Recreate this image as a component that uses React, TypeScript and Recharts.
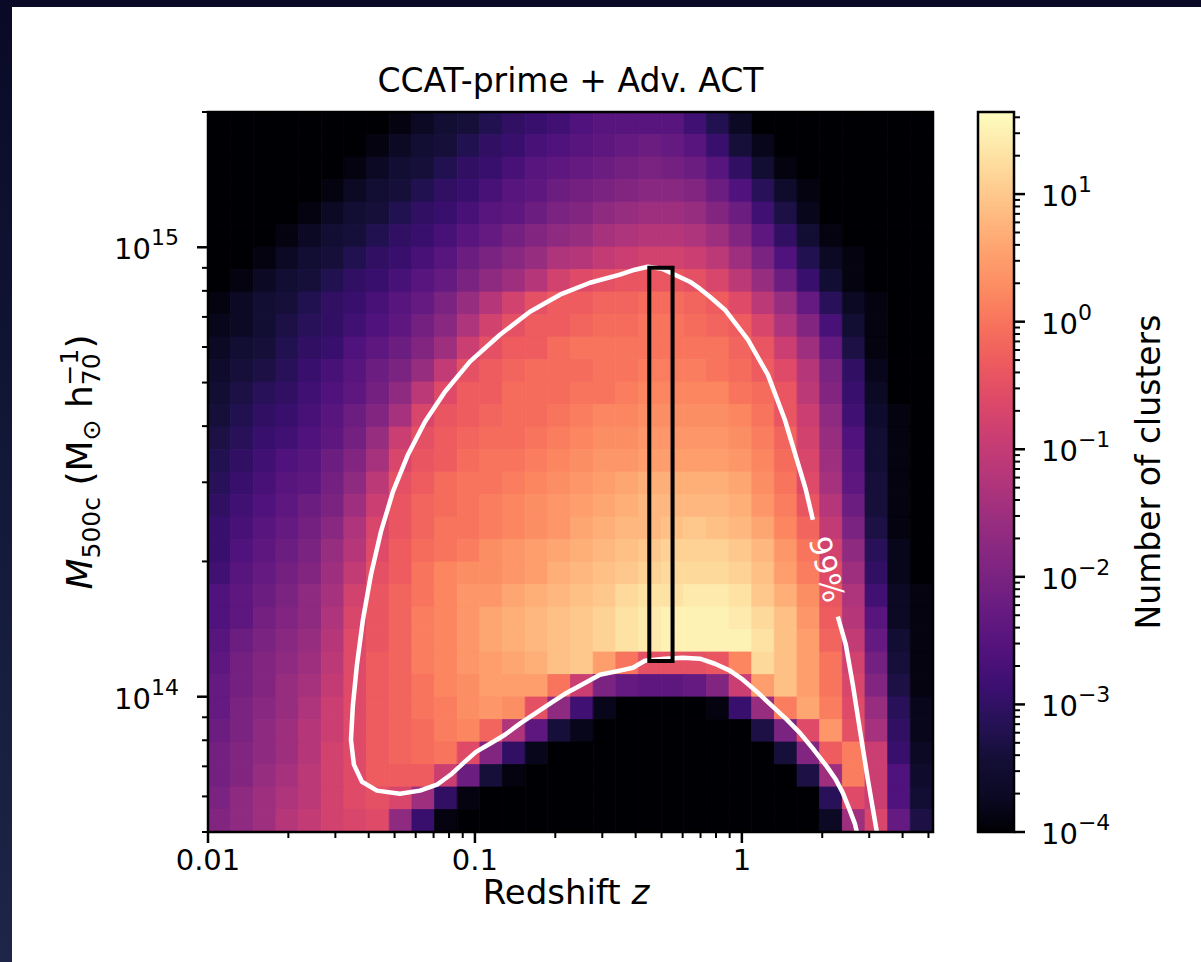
import React from "react";
import { ComposedChart, XAxis, YAxis, Line, ReferenceArea, ReferenceDot } from "recharts";

const FONT = "'DejaVu Sans', 'Liberation Sans', sans-serif";

const Z_MIN = 0.01;
const Z_MAX = 5.2;
const M_MIN = 5e13;
const M_MAX = 2e15;
const N_MIN = 1e-4;
const N_MAX = 44;

const Z_MAJOR = [0.01, 0.1, 1];
const Z_LABELS = ["0.01", "0.1", "1"];
const Z_MINOR = [0.02, 0.03, 0.04, 0.05, 0.06, 0.07, 0.08, 0.09, 0.2, 0.3, 0.4, 0.5, 0.6, 0.7, 0.8, 0.9, 2, 3, 4, 5];
const M_MAJOR = [1e14, 1e15];
const M_EXPONENTS = ["14", "15"];
const M_MINOR = [5e13, 6e13, 7e13, 8e13, 9e13, 2e14, 3e14, 4e14, 5e14, 6e14, 7e14, 8e14, 9e14, 2e15];
const N_MAJOR = [1e-4, 1e-3, 1e-2, 1e-1, 1, 10];
const N_EXPONENTS = ["\u22124", "\u22123", "\u22122", "\u22121", "0", "1"];
const N_MINOR = [
  ...N_MAJOR.slice(0, 5).flatMap((d) => [2, 3, 4, 5, 6, 7, 8, 9].map((k) => k * d)),
  20, 30, 40,
];

// log10(number of clusters) per cell; rows run from the highest mass bin down,
// columns from z = 0.01 up to z = 5.2. -5 means no clusters (below the colour scale).
const ROW_00 = [-5, -5, -5, -5, -5, -5, -5, -5, -3.9, -3.7, -3.5, -3.4, -3.2, -3.0, -2.9, -2.8, -2.6, -2.5, -2.5, -2.5, -2.5, -2.8, -3.2, -3.7, -5, -5, -5, -5, -5, -5, -5, -5];
const ROW_01 = [-5, -5, -5, -5, -5, -5, -5, -3.9, -3.7, -3.5, -3.4, -3.2, -3.0, -2.9, -2.7, -2.6, -2.5, -2.4, -2.3, -2.2, -2.3, -2.5, -2.9, -3.4, -3.8, -5, -5, -5, -5, -5, -5, -5];
const ROW_02 = [-5, -5, -5, -5, -5, -5, -3.9, -3.7, -3.5, -3.4, -3.2, -3.0, -2.9, -2.7, -2.5, -2.4, -2.3, -2.2, -2.1, -2.0, -2.1, -2.2, -2.5, -3.0, -3.5, -3.9, -5, -5, -5, -5, -5, -5];
const ROW_03 = [-5, -5, -5, -5, -5, -3.9, -3.7, -3.5, -3.4, -3.2, -3.0, -2.9, -2.7, -2.5, -2.4, -2.2, -2.1, -2.0, -1.9, -1.8, -1.8, -1.9, -2.2, -2.6, -3.1, -3.6, -3.9, -5, -5, -5, -5, -5];
const ROW_04 = [-5, -5, -5, -5, -3.9, -3.7, -3.5, -3.4, -3.2, -3.0, -2.9, -2.7, -2.5, -2.4, -2.2, -2.0, -1.9, -1.7, -1.6, -1.5, -1.5, -1.6, -1.9, -2.2, -2.8, -3.3, -3.8, -5, -5, -5, -5, -5];
const ROW_05 = [-5, -5, -5, -3.9, -3.7, -3.5, -3.4, -3.2, -3.0, -2.9, -2.7, -2.5, -2.3, -2.1, -1.9, -1.7, -1.6, -1.4, -1.3, -1.2, -1.2, -1.3, -1.5, -1.9, -2.4, -3.0, -3.5, -3.9, -5, -5, -5, -5];
const ROW_06 = [-5, -5, -3.9, -3.7, -3.5, -3.4, -3.2, -3.0, -2.9, -2.7, -2.5, -2.2, -2.0, -1.8, -1.6, -1.3, -1.2, -1.0, -0.9, -0.8, -0.8, -0.9, -1.1, -1.5, -2.0, -2.6, -3.2, -3.7, -3.9, -5, -5, -5];
const ROW_07 = [-5, -3.9, -3.7, -3.5, -3.4, -3.2, -3.0, -2.9, -2.7, -2.5, -2.3, -2.0, -1.7, -1.5, -1.2, -0.8, -0.6, -0.5, -0.4, -0.4, -0.4, -0.5, -0.7, -1.1, -1.6, -2.2, -2.9, -3.5, -3.9, -5, -5, -5];
const ROW_08 = [-3.9, -3.7, -3.5, -3.4, -3.2, -3.0, -2.9, -2.7, -2.5, -2.3, -2.0, -1.6, -1.2, -0.8, -0.5, -0.3, -0.3, -0.2, -0.2, -0.1, -0.1, -0.2, -0.3, -0.6, -1.1, -1.6, -2.3, -3.1, -3.7, -3.9, -5, -5];
const ROW_09 = [-3.8, -3.7, -3.5, -3.3, -3.1, -3.0, -2.8, -2.6, -2.4, -2.1, -1.8, -1.3, -0.8, -0.5, -0.3, -0.3, -0.2, -0.1, -0.1, 0.0, 0.0, -0.1, -0.2, -0.3, -0.7, -1.3, -1.9, -2.7, -3.5, -3.9, -5, -5];
const ROW_10 = [-3.7, -3.5, -3.4, -3.2, -3.0, -2.9, -2.6, -2.4, -2.2, -1.9, -1.5, -0.9, -0.5, -0.3, -0.3, -0.1, 0.0, 0.0, 0.0, 0.0, 0.0, 0.0, 0.0, -0.2, -0.4, -0.9, -1.5, -2.3, -3.3, -3.9, -5, -5];
const ROW_11 = [-3.6, -3.4, -3.3, -3.1, -2.9, -2.7, -2.5, -2.2, -2.0, -1.6, -1.0, -0.5, -0.3, -0.2, -0.1, -0.1, -0.1, 0.0, 0.0, 0.1, 0.1, 0.1, 0.0, -0.1, -0.3, -0.6, -1.2, -2.0, -3.0, -3.8, -5, -5];
const ROW_12 = [-3.5, -3.3, -3.1, -3.0, -2.8, -2.6, -2.4, -2.1, -1.7, -1.1, -0.6, -0.3, -0.3, -0.1, -0.1, -0.1, 0.0, 0.0, 0.1, 0.2, 0.2, 0.2, 0.2, 0.0, -0.1, -0.4, -1.1, -1.9, -2.9, -3.7, -5, -5];
const ROW_13 = [-3.4, -3.2, -3.0, -2.9, -2.7, -2.5, -2.2, -1.9, -1.4, -0.7, -0.4, -0.3, -0.2, -0.1, -0.1, 0.0, 0.1, 0.2, 0.2, 0.3, 0.3, 0.3, 0.3, 0.2, 0.0, -0.4, -0.9, -1.7, -2.8, -3.6, -3.9, -5];
const ROW_14 = [-3.3, -3.1, -2.9, -2.8, -2.6, -2.4, -2.1, -1.6, -0.9, -0.5, -0.3, -0.2, -0.1, -0.1, 0.0, 0.1, 0.2, 0.3, 0.3, 0.4, 0.4, 0.4, 0.4, 0.3, 0.1, -0.2, -0.8, -1.6, -2.6, -3.5, -3.9, -5];
const ROW_15 = [-3.2, -3.0, -2.8, -2.6, -2.5, -2.2, -1.9, -1.4, -0.7, -0.4, -0.3, -0.1, 0.0, 0.0, 0.1, 0.2, 0.3, 0.4, 0.4, 0.5, 0.5, 0.5, 0.5, 0.4, 0.2, -0.1, -0.7, -1.5, -2.5, -3.5, -3.9, -5];
const ROW_16 = [-3.1, -2.9, -2.7, -2.5, -2.4, -2.1, -1.7, -1.1, -0.5, -0.3, -0.1, 0.0, 0.0, 0.1, 0.2, 0.3, 0.4, 0.5, 0.6, 0.7, 0.7, 0.7, 0.7, 0.6, 0.3, 0.0, -0.6, -1.4, -2.4, -3.4, -3.9, -5];
const ROW_17 = [-3.0, -2.8, -2.6, -2.4, -2.2, -2.0, -1.5, -0.9, -0.4, -0.2, -0.1, 0.0, 0.1, 0.2, 0.3, 0.4, 0.5, 0.6, 0.7, 0.8, 0.8, 0.8, 0.8, 0.7, 0.4, 0.1, -0.4, -1.2, -2.2, -3.4, -3.9, -5];
const ROW_18 = [-2.9, -2.7, -2.5, -2.3, -2.1, -1.8, -1.3, -0.7, -0.4, -0.2, 0.0, 0.0, 0.1, 0.2, 0.3, 0.4, 0.6, 0.7, 0.8, 0.8, 0.9, 1.0, 0.9, 0.8, 0.6, 0.2, -0.2, -1.0, -2.0, -3.3, -3.9, -5];
const ROW_19 = [-2.9, -2.6, -2.4, -2.2, -2.0, -1.6, -1.2, -0.6, -0.3, -0.1, 0.0, 0.1, 0.3, 0.4, 0.5, 0.6, 0.7, 0.8, 0.9, 1.0, 1.1, 1.1, 1.1, 1.0, 0.8, 0.4, 0.0, -0.8, -1.7, -3.1, -3.8, -5];
const ROW_20 = [-2.8, -2.5, -2.3, -2.1, -1.9, -1.5, -1.0, -0.5, -0.3, 0.0, 0.2, 0.3, 0.3, 0.4, 0.5, 0.7, 0.8, 0.9, 1.0, 1.1, 1.2, 1.2, 1.2, 1.1, 0.9, 0.5, 0.1, -0.6, -1.5, -3.0, -3.8, -5];
const ROW_21 = [-2.6, -2.4, -2.2, -2.0, -1.7, -1.4, -0.8, -0.4, -0.2, 0.0, 0.2, 0.4, 0.4, 0.6, 0.7, 0.8, 0.9, 1.0, 1.2, 1.3, 1.3, 1.4, 1.4, 1.3, 1.0, 0.7, 0.3, -0.4, -1.3, -2.8, -3.7, -3.9];
const ROW_22 = [-2.6, -2.4, -2.1, -1.9, -1.7, -1.3, -0.7, -0.4, -0.2, 0.1, 0.2, 0.4, 0.6, 0.7, 0.8, 0.9, 1.0, 1.1, 1.3, 1.4, 1.5, 1.5, 1.5, 1.4, 1.2, 0.9, 0.4, -0.3, -1.2, -2.5, -3.7, -3.9];
const ROW_23 = [-2.5, -2.2, -2.0, -1.8, -1.6, -1.2, -0.6, -0.4, -0.2, 0.1, 0.2, 0.4, 0.6, 0.7, 0.8, 0.9, 1.0, 1.1, 1.3, 1.4, 1.5, 1.5, 1.5, 1.5, 1.3, 0.9, 0.5, -0.2, -1.0, -2.3, -3.5, -3.9];
const ROW_24 = [-2.4, -2.1, -1.9, -1.7, -1.5, -1.1, -0.6, -0.3, -0.2, 0.1, 0.2, 0.4, 0.5, 0.6, 0.7, 0.9, 1.0, 0.5, 0.0, -0.5, -0.5, -0.5, -0.4, 0.2, 1.2, 0.9, 0.5, 0.0, -0.8, -2.1, -3.4, -3.9];
const ROW_25 = [-2.3, -2.1, -1.9, -1.6, -1.4, -1.0, -0.6, -0.3, -0.2, 0.0, 0.2, 0.3, 0.5, 0.5, 0.5, 0.0, -0.9, -2.0, -2.3, -2.4, -2.4, -2.3, -1.9, -0.9, 0.5, 0.9, 0.5, 0.0, -0.7, -1.9, -3.3, -3.9];
const ROW_26 = [-2.3, -2.0, -1.8, -1.6, -1.3, -0.9, -0.6, -0.3, -0.2, 0.0, 0.1, 0.3, 0.4, 0.3, -0.5, -1.7, -2.8, -3.8, -5, -5, -5, -5, -3.9, -2.9, -1.6, 0.1, 0.6, 0.1, -0.6, -1.6, -3.1, -3.8];
const ROW_27 = [-2.2, -2.0, -1.7, -1.5, -1.2, -0.9, -0.6, -0.3, -0.2, -0.1, 0.1, 0.2, -0.2, -1.3, -2.4, -3.4, -3.8, -5, -5, -5, -5, -5, -5, -5, -3.3, -2.0, -0.6, 0.4, -0.5, -1.4, -3.0, -3.8];
const ROW_28 = [-2.1, -1.9, -1.7, -1.5, -1.2, -0.8, -0.6, -0.3, -0.2, -0.1, 0.0, -0.6, -1.9, -3.0, -3.8, -5, -5, -5, -5, -5, -5, -5, -5, -5, -5, -3.4, -1.9, -0.3, 0.1, -0.9, -2.9, -3.7];
const ROW_29 = [-2.1, -1.9, -1.6, -1.4, -1.1, -0.8, -0.6, -0.3, -0.3, -0.3, -0.9, -2.2, -3.4, -3.9, -5, -5, -5, -5, -5, -5, -5, -5, -5, -5, -5, -5, -3.3, -1.5, 0.1, -0.9, -2.6, -3.6];
const ROW_30 = [-2.0, -1.7, -1.5, -1.3, -1.1, -0.8, -0.6, -0.5, -0.7, -1.5, -3.0, -3.9, -5, -5, -5, -5, -5, -5, -5, -5, -5, -5, -5, -5, -5, -5, -5, -3.1, -0.6, -0.9, -2.6, -3.5];
const ROW_31 = [-1.9, -1.7, -1.5, -1.2, -1.0, -0.8, -0.7, -0.6, -1.7, -2.9, -3.9, -5, -5, -5, -5, -5, -5, -5, -5, -5, -5, -5, -5, -5, -5, -5, -5, -3.7, -1.5, -0.7, -2.3, -3.3];

const LOG_N_ROWS = [
  ROW_00, ROW_01, ROW_02, ROW_03, ROW_04, ROW_05, ROW_06, ROW_07,
  ROW_08, ROW_09, ROW_10, ROW_11, ROW_12, ROW_13, ROW_14, ROW_15,
  ROW_16, ROW_17, ROW_18, ROW_19, ROW_20, ROW_21, ROW_22, ROW_23,
  ROW_24, ROW_25, ROW_26, ROW_27, ROW_28, ROW_29, ROW_30, ROW_31,
];

// 99% contour, upper part (from the label gap round the top and along the cut-off edge)
const CONTOUR_99_MAIN = [
  { z: 1.845, m: 2.477e14 }, { z: 1.736, m: 2.888e14 }, { z: 1.607, m: 3.368e14 },
  { z: 1.449, m: 4.133e14 }, { z: 1.251, m: 5.207e14 }, { z: 1.053, m: 6.228e14 },
  { z: 0.8636, m: 7.262e14 }, { z: 0.7588, m: 7.763e14 }, { z: 0.6959, m: 8.088e14 },
  { z: 0.6385, m: 8.383e14 }, { z: 0.5611, m: 8.69e14 }, { z: 0.5016, m: 8.962e14 },
  { z: 0.4445, m: 9.054e14 }, { z: 0.3975, m: 8.916e14 }, { z: 0.3492, m: 8.69e14 },
  { z: 0.2697, m: 8.34e14 }, { z: 0.2082, m: 7.843e14 }, { z: 0.1607, m: 7.188e14 },
  { z: 0.1241, m: 6.39e14 }, { z: 0.09578, m: 5.566e14 }, { z: 0.0772, m: 4.772e14 },
  { z: 0.06497, m: 4.091e14 }, { z: 0.05612, m: 3.455e14 }, { z: 0.04931, m: 2.859e14 },
  { z: 0.04445, m: 2.329e14 }, { z: 0.04078, m: 1.868e14 }, { z: 0.03806, m: 1.484e14 },
  { z: 0.03614, m: 1.178e14 }, { z: 0.03491, m: 9.6e13 }, { z: 0.03432, m: 8.02e13 },
  { z: 0.03521, m: 7.06e13 }, { z: 0.03774, m: 6.47e13 }, { z: 0.04295, m: 6.18e13 },
  { z: 0.05237, m: 6.08e13 }, { z: 0.06223, m: 6.18e13 }, { z: 0.07206, m: 6.37e13 },
  { z: 0.082, m: 6.74e13 }, { z: 0.09174, m: 7.17e13 }, { z: 0.1009, m: 7.54e13 },
  { z: 0.1138, m: 7.86e13 }, { z: 0.1296, m: 8.23e13 }, { z: 0.1474, m: 8.71e13 },
  { z: 0.1678, m: 9.17e13 }, { z: 0.191, m: 9.65e13 }, { z: 0.2174, m: 1.015e14 },
  { z: 0.2473, m: 1.058e14 }, { z: 0.2938, m: 1.119e14 }, { z: 0.3492, m: 1.143e14 },
  { z: 0.3906, m: 1.16e14 }, { z: 0.4332, m: 1.202e14 }, { z: 0.5147, m: 1.215e14 },
  { z: 0.6012, m: 1.221e14 }, { z: 0.6959, m: 1.215e14 }, { z: 0.7923, m: 1.184e14 },
  { z: 0.9018, m: 1.143e14 }, { z: 1.009, m: 1.091e14 }, { z: 1.148, m: 1.021e14 },
  { z: 1.306, m: 9.5e13 }, { z: 1.474, m: 8.89e13 }, { z: 1.649, m: 8.31e13 },
  { z: 1.861, m: 7.62e13 }, { z: 2.082, m: 6.99e13 }, { z: 2.249, m: 6.54e13 },
  { z: 2.389, m: 6.11e13 }, { z: 2.516, m: 5.66e13 }, { z: 2.65, m: 5.22e13 },
  { z: 2.696, m: 5.0e13 },
];
// 99% contour, high-redshift branch below the label
const CONTOUR_99_TAIL = [
  { z: 2.288, m: 1.507e14 }, { z: 2.452, m: 1.305e14 }, { z: 2.605, m: 1.063e14 },
  { z: 2.767, m: 8.45e13 }, { z: 2.965, m: 6.54e13 }, { z: 3.203, m: 5.0e13 },
];
const CONTOUR_LABEL = { z: 2.08, m: 1.92e14, text: "99%" };
const BOX = { z1: 0.45, z2: 0.55, m1: 1.2e14, m2: 9.0e14 };

const MAGMA = [
  "#000004", "#0b0924", "#140e36", "#251255", "#3b0f70", "#51127c", "#641a80",
  "#782281", "#8c2981", "#a1307e", "#b73779", "#ca3e72", "#de4968", "#ed5a5f",
  "#f7705c", "#fc8961", "#fe9f6d", "#feb77e", "#fecf92", "#fde7a9", "#fcfdbf",
];

function hexRgb(h: string) {
  return [1, 3, 5].map((k) => parseInt(h.slice(k, k + 2), 16));
}

function magma(t: number) {
  const c = Math.min(1, Math.max(0, t)) * (MAGMA.length - 1);
  const i = Math.min(MAGMA.length - 2, Math.floor(c));
  const f = c - i;
  const a = hexRgb(MAGMA[i]);
  const b = hexRgb(MAGMA[i + 1]);
  const mix = a.map((v, k) => Math.round(v + (b[k] - v) * f));
  return `rgb(${mix[0]},${mix[1]},${mix[2]})`;
}

const LOG_LO = Math.log10(N_MIN);
const LOG_HI = Math.log10(N_MAX);
const colorFor = (logN: number) => magma((logN - LOG_LO) / (LOG_HI - LOG_LO));

const nCols = ROW_00.length;
const nRows = LOG_N_ROWS.length;
const zEdge = (i: number) =>
  i <= 0 ? Z_MIN : i >= nCols ? Z_MAX : Z_MIN * Math.pow(Z_MAX / Z_MIN, i / nCols);
const mEdge = (j: number) =>
  j <= 0 ? M_MAX : j >= nRows ? M_MIN : M_MAX * Math.pow(M_MIN / M_MAX, j / nRows);

const CELLS = LOG_N_ROWS.flatMap((row, j) =>
  row.map((v, i) => ({
    key: `c${j}-${i}`,
    x1: zEdge(i),
    x2: zEdge(i + 1),
    y1: mEdge(j + 1),
    y2: mEdge(j),
    fill: colorFor(v),
  }))
);

const BAR_DATA = [{ x: 0 }, { x: 1 }];

function ZTick(props: any) {
  const { x, y, payload } = props;
  const k = Z_MAJOR.indexOf(payload.value);
  const major = k >= 0;
  return (
    <g>
      <line x1={x} x2={x} y1={y} y2={y + (major ? 11 : 6)} stroke="#000" strokeWidth={major ? 2.5 : 2} />
      {major && (
        <text x={x} y={y + 38} textAnchor="middle" fontSize={29} fontFamily={FONT} fill="#000">
          {Z_LABELS[k]}
        </text>
      )}
    </g>
  );
}

function MTick(props: any) {
  const { x, y, payload } = props;
  const k = M_MAJOR.indexOf(payload.value);
  const major = k >= 0;
  return (
    <g>
      <line x1={x - (major ? 11 : 6)} x2={x} y1={y} y2={y} stroke="#000" strokeWidth={major ? 2.5 : 2} />
      {major && (
        <text x={x - 29} y={y + 12} textAnchor="end" fontSize={29} fontFamily={FONT} fill="#000">
          10
          <tspan fontSize={22} dy={-14}>{M_EXPONENTS[k]}</tspan>
        </text>
      )}
    </g>
  );
}

function NTick(props: any) {
  const { x, y, payload } = props;
  const k = N_MAJOR.indexOf(payload.value);
  const major = k >= 0;
  return (
    <g>
      <line x1={x} x2={x + (major ? 11 : 6)} y1={y} y2={y} stroke="#000" strokeWidth={major ? 2.5 : 2} />
      {major && (
        <text x={x + 27} y={y + 12} textAnchor="start" fontSize={29} fontFamily={FONT} fill="#000">
          10
          <tspan fontSize={22} dy={-14}>{N_EXPONENTS[k]}</tspan>
        </text>
      )}
    </g>
  );
}

function HeatMap() {
  return (
    <ComposedChart width={1201} height={962} margin={{ top: 112, right: 268, bottom: 70, left: 108 }}>
      <XAxis
        dataKey="z"
        type="number"
        scale="log"
        domain={[Z_MIN, Z_MAX]}
        allowDataOverflow
        ticks={[...Z_MAJOR, ...Z_MINOR]}
        interval={0}
        tick={(p: any) => <ZTick {...p} />}
        tickLine={false}
        axisLine={false}
        tickSize={0}
        tickMargin={0}
        height={60}
      />
      <YAxis
        dataKey="m"
        type="number"
        scale="log"
        domain={[M_MIN, M_MAX]}
        allowDataOverflow
        ticks={[...M_MAJOR, ...M_MINOR]}
        interval={0}
        tick={(p: any) => <MTick {...p} />}
        tickLine={false}
        axisLine={false}
        tickSize={0}
        tickMargin={0}
        width={100}
      />
      {CELLS.map((c) => (
        <ReferenceArea
          key={c.key}
          x1={c.x1}
          x2={c.x2}
          y1={c.y1}
          y2={c.y2}
          fill={c.fill}
          fillOpacity={1}
          stroke={c.fill}
          strokeWidth={0.8}
          zIndex={50}
        />
      ))}
      <Line
        data={CONTOUR_99_MAIN}
        dataKey="m"
        type="linear"
        stroke="#ffffff"
        strokeWidth={4.5}
        strokeLinejoin="round"
        strokeLinecap="butt"
        dot={false}
        activeDot={false}
        isAnimationActive={false}
      />
      <Line
        data={CONTOUR_99_TAIL}
        dataKey="m"
        type="linear"
        stroke="#ffffff"
        strokeWidth={4.5}
        strokeLinecap="butt"
        dot={false}
        activeDot={false}
        isAnimationActive={false}
      />
      <ReferenceArea
        x1={BOX.z1}
        x2={BOX.z2}
        y1={BOX.m1}
        y2={BOX.m2}
        fill="none"
        stroke="#000"
        strokeWidth={4}
        zIndex={700}
      />
      <ReferenceArea
        x1={Z_MIN}
        x2={Z_MAX}
        y1={M_MIN}
        y2={M_MAX}
        fill="none"
        stroke="#000"
        strokeWidth={2.5}
        zIndex={710}
      />
      <ReferenceDot
        x={CONTOUR_LABEL.z}
        y={CONTOUR_LABEL.m}
        r={1}
        zIndex={720}
        shape={(p: any) => (
          <text
            x={p.cx}
            y={p.cy}
            transform={`rotate(76 ${p.cx} ${p.cy})`}
            textAnchor="middle"
            dominantBaseline="central"
            fill="#ffffff"
            fontSize={30}
            fontFamily={FONT}
          >
            {CONTOUR_LABEL.text}
          </text>
        )}
      />
    </ComposedChart>
  );
}

function ColorBar() {
  return (
    <ComposedChart
      width={301}
      height={962}
      data={BAR_DATA}
      margin={{ top: 112, right: 37, bottom: 130, left: 78 }}
    >
      <defs>
        <linearGradient id="magmaBar" x1="0" y1="1" x2="0" y2="0">
          {MAGMA.map((c, i) => (
            <stop key={c} offset={`${(i / (MAGMA.length - 1)) * 100}%`} stopColor={c} />
          ))}
        </linearGradient>
      </defs>
      <XAxis type="number" dataKey="x" domain={[0, 1]} allowDataOverflow hide />
      <YAxis
        orientation="right"
        type="number"
        scale="log"
        domain={[N_MIN, N_MAX]}
        allowDataOverflow
        ticks={[...N_MAJOR, ...N_MINOR]}
        interval={0}
        tick={(p: any) => <NTick {...p} />}
        tickLine={false}
        axisLine={false}
        tickSize={0}
        tickMargin={0}
        width={150}
      />
      <ReferenceArea
        x1={0}
        x2={1}
        y1={N_MIN}
        y2={N_MAX}
        ifOverflow="visible"
        fill="url(#magmaBar)"
        fillOpacity={1}
        stroke="#000"
        strokeWidth={2.5}
      />
    </ComposedChart>
  );
}

export default function App() {
  return (
    <div
      style={{
        position: "absolute",
        left: 0,
        top: 0,
        width: 1201,
        height: 962,
        overflow: "hidden",
        background: "linear-gradient(180deg, #0a0a26 0%, #141b3c 60%, #1d2648 100%)",
      }}
    >
      <div style={{ position: "absolute", left: 12, top: 7, right: 0, bottom: 0, background: "#ffffff" }} />
      <div style={{ position: "absolute", left: 0, top: 0 }}>
        <HeatMap />
      </div>
      <div style={{ position: "absolute", left: 900, top: 0 }}>
        <ColorBar />
      </div>
      <svg
        width={1201}
        height={962}
        style={{ position: "absolute", left: 0, top: 0, pointerEvents: "none" }}
      >
        <text x={570.5} y={92} textAnchor="middle" fontSize={33} fontFamily={FONT} fill="#000">
          CCAT-prime + Adv. ACT
        </text>
        <text x={566} y={904} textAnchor="middle" fontSize={34} fontFamily={FONT} fill="#000">
          Redshift <tspan fontStyle="italic">z</tspan>
        </text>
        <text
          transform="translate(92,462) rotate(-90)"
          textAnchor="middle"
          fontSize={36}
          fontFamily={FONT}
          fill="#000"
        >
          <tspan fontStyle="italic">M</tspan>
          <tspan fontSize={25} dy={8}>500c</tspan>
          <tspan dy={-8}> (M</tspan>
          <tspan fontSize={25} dy={8}>{"\u2299"}</tspan>
          <tspan dy={-8}> h</tspan>
          <tspan fontSize={25} dy={8}>70</tspan>
          <tspan fontSize={25} dx={-32} dy={-22}>{"\u22121"}</tspan>
          <tspan dy={14}>)</tspan>
        </text>
        <text
          transform="translate(1160,472) rotate(-90)"
          textAnchor="middle"
          fontSize={33}
          fontFamily={FONT}
          fill="#000"
        >
          Number of clusters
        </text>
      </svg>
    </div>
  );
}
